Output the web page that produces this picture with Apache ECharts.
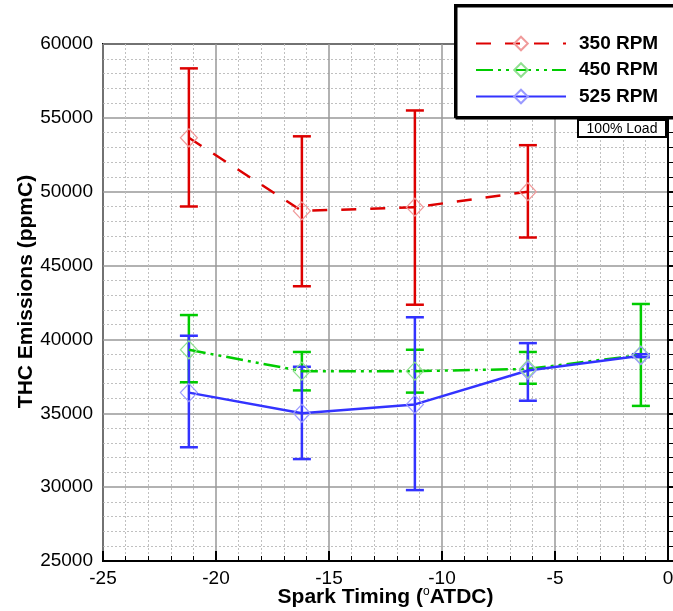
<!DOCTYPE html>
<html>
<head>
<meta charset="utf-8">
<script src="https://cdn.jsdelivr.net/npm/echarts@6/dist/echarts.min.js"></script>
<style>html,body{margin:0;padding:0;background:#fff;}#c{width:673px;height:611px;}</style>
</head>
<body>
<div id="c"></div>
<script>
// ---- data ----
const seriesNames = ['350 RPM', '450 RPM', '525 RPM'];
const xTiming = [-21.2, -16.2, -11.2, -6.2, -1.2];
const rpm350 = [53650, 48700, 48950, 50000];
const rpm350Low = [49000, 43600, 42350, 46900];
const rpm350High = [58350, 53750, 55500, 53150];
const rpm450 = [39300, 37850, 37850, 38000, 38950];
const rpm450Low = [37100, 36550, 36400, 37000, 35500];
const rpm450High = [41650, 39150, 39300, 39150, 42400];
const rpm525 = [36400, 35000, 35600, 37900, 38900];
const rpm525Low = [32700, 31900, 29800, 35850, 38800];
const rpm525High = [40250, 38150, 41500, 39750, 39000];
const xTicks = [-25, -20, -15, -10, -5, 0];
const yTicks = [25000, 30000, 35000, 40000, 45000, 50000, 55000, 60000];

const FONT = '"Liberation Sans", Arial, Helvetica, sans-serif';
const colors = ['#dd0000', '#00cc00', '#3333ff'];
const markerColors = ['#f09a9a', '#90e090', '#9a9aff'];
const lineTypes = [[15, 14], [17, 5, 3, 5, 3, 5], 'solid'];

function pts(xs, ys) { return ys.map((v, i) => [xs[i], v]); }
function bars(xs, lo, hi) { return lo.map((v, i) => [xs[i], v, hi[i]]); }

const lineData = [pts(xTiming, rpm350), pts(xTiming, rpm450), pts(xTiming, rpm525)];
const barData = [bars(xTiming, rpm350Low, rpm350High), bars(xTiming, rpm450Low, rpm450High), bars(xTiming, rpm525Low, rpm525High)];

function errRender(color) {
  return function (params, api) {
    const x = api.value(0);
    const lo = api.coord([x, api.value(1)]);
    const hi = api.coord([x, api.value(2)]);
    const hw = 9;
    const st = { stroke: color, lineWidth: 2.5 };
    return {
      type: 'group',
      children: [
        { type: 'line', shape: { x1: lo[0], y1: lo[1], x2: hi[0], y2: hi[1] }, style: st },
        { type: 'line', shape: { x1: lo[0] - hw, y1: lo[1], x2: lo[0] + hw, y2: lo[1] }, style: st },
        { type: 'line', shape: { x1: hi[0] - hw, y1: hi[1], x2: hi[0] + hw, y2: hi[1] }, style: st }
      ]
    };
  };
}

const series = [];
[1, 2, 0].forEach(i => {
  series.push({
    type: 'custom', name: seriesNames[i] + ' err', renderItem: errRender(colors[i]),
    data: barData[i], z: 3, silent: true
  });
});
[1, 2, 0].forEach(i => {
  series.push({
    type: 'line', name: seriesNames[i], data: lineData[i],
    symbol: 'diamond', symbolSize: [17, 18], showSymbol: true,
    lineStyle: { color: colors[i], width: 2.5, type: lineTypes[i] },
    itemStyle: { color: 'rgba(255,255,255,0)', borderColor: markerColors[i], borderWidth: 1.2 },
    z: 4, animation: false
  });
});

const chart = echarts.init(document.getElementById('c'), null, { renderer: 'canvas' });
chart.setOption({
  animation: false,
  backgroundColor: '#fff',
  grid: { left: 103, right: 5, top: 44, bottom: 50, show: true, borderColor: '#000', borderWidth: 2, backgroundColor: 'transparent', containLabel: false, outerBoundsMode: 'none' },
  xAxis: {
    type: 'value', min: xTicks[0], max: xTicks[xTicks.length - 1], interval: 5,
    name: '{a|Spark Timing (}{s|o}{a|ATDC)}', nameLocation: 'middle', nameGap: 25, nameMoveOverlap: false,
    nameTextStyle: {
      rich: {
        a: { fontFamily: FONT, fontWeight: 'bold', fontSize: 21, color: '#000' },
        s: { fontFamily: FONT, fontWeight: 'normal', fontSize: 12, color: '#000', padding: [0, 0, 10, 0] }
      }
    },
    axisLine: { show: true, lineStyle: { color: '#000', width: 2 } },
    axisTick: { show: true, inside: true, length: 10, lineStyle: { color: '#000', width: 2 } },
    minorTick: { show: true, splitNumber: 5, length: 5, lineStyle: { color: '#000', width: 1 } },
    axisLabel: { fontFamily: FONT, fontSize: 19, color: '#000', margin: 8 },
    splitLine: { show: true, lineStyle: { color: '#999', width: 1.5 } },
    minorSplitLine: { show: true, lineStyle: { color: '#c0c0c0', width: 1, type: [2, 2] } }
  },
  yAxis: {
    type: 'value', min: yTicks[0], max: yTicks[yTicks.length - 1], interval: 5000,
    name: 'THC Emissions (ppmC)', nameLocation: 'middle', nameGap: 66, nameMoveOverlap: false,
    nameTextStyle: { fontFamily: FONT, fontWeight: 'bold', fontSize: 21, color: '#000', padding: [0, 0, 0, 22] },
    axisLine: { show: true, lineStyle: { color: '#000', width: 2 } },
    axisTick: { show: true, inside: true, length: 10, lineStyle: { color: '#000', width: 2 } },
    minorTick: { show: true, splitNumber: 5, length: 5, lineStyle: { color: '#000', width: 1 } },
    axisLabel: { fontFamily: FONT, fontSize: 19, color: '#000', margin: 10, formatter: v => String(v) },
    splitLine: { show: true, lineStyle: { color: '#999', width: 1.5 } },
    minorSplitLine: { show: true, lineStyle: { color: '#c0c0c0', width: 1, type: [2, 2] } }
  },
  legend: {
    data: seriesNames, orient: 'vertical', left: 470, top: 29,
    itemWidth: 90, itemHeight: 17, itemGap: 7.5, z: 20,
    textStyle: { fontFamily: FONT, fontWeight: 'bold', fontSize: 19, color: '#000', padding: [0, 0, 0, 8] },
    selectedMode: false
  },
  graphic: [
    { type: 'rect', z: 15, shape: { x: 455, y: 5, width: 240, height: 112 },
      style: { fill: '#fff', stroke: '#000', lineWidth: 2, shadowColor: '#000', shadowOffsetX: 1.5, shadowOffsetY: 1.5, shadowBlur: 0 } },
    { type: 'rect', z: 15, shape: { x: 578, y: 120, width: 88, height: 17 },
      style: { fill: '#fff', stroke: '#000', lineWidth: 2 } },
    { type: 'text', z: 16, x: 622, y: 129,
      style: { text: '100% Load', fontFamily: FONT, fontSize: 14, fill: '#000', textAlign: 'center', textVerticalAlign: 'middle' } }
  ],
  series: series
});
</script>
</body>
</html>
